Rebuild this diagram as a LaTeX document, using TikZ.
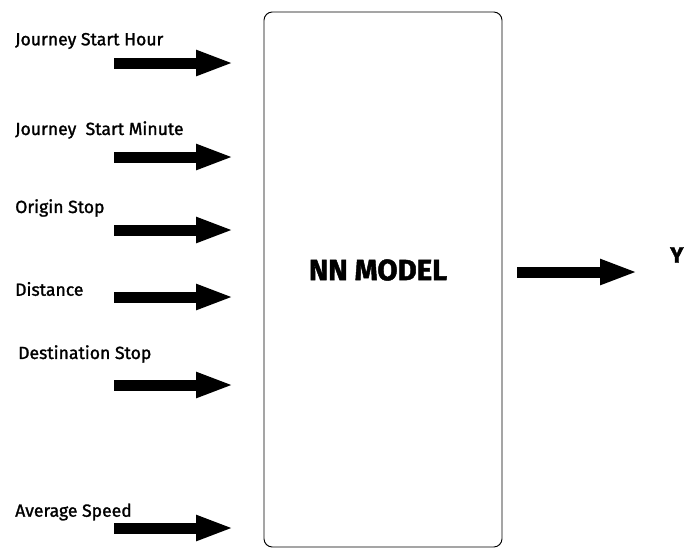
\documentclass[tikz,border=0pt]{standalone}
\usepackage{fontspec}
\setmainfont{Fira Sans}
\newfontfamily\lblfont{Fira Sans}[FakeBold=1.4]
\newfontfamily\heavyfont{Fira Sans Bold}[FakeBold=1.6]
\usetikzlibrary{arrows.meta}
\tikzset{
	inlabel/.style={anchor=west,inner sep=0pt,font=\lblfont\fontsize{15}{17}\selectfont},
	fatarrow/.style={line width=0.33cm,-{Triangle[length=1.14cm,width=0.7cm]}},
	modelbox/.style={draw,thick,rounded corners=0.25cm,minimum width=7.14cm,minimum height=16.05cm,inner sep=0pt}
}
\newcommand{\inarrow}[4]{% #1: name, #2: label, #3: label y, #4: arrow y
	\node[inlabel] (#1) at (15,#3) {#2};
	\coordinate (#1s) at (114,#4);
	\coordinate (#1e) at (234,#4);
	\draw[fatarrow] (#1s) -- (#1e);
}

\begin{document}
\begin{tikzpicture}[x=0.03cm,y=-0.03cm]
	% Page size
	\useasboundingbox (0,0) rectangle (684,549);
	
	% The model box
	\node[modelbox] (model) at (383,279.5) {};
	\node[font=\heavyfont\fontsize{25}{28}\selectfont] (nn) at (378,270) {NN MODEL};
	
	% Inputs
	\inarrow{hour}{Journey Start Hour}{41}{63}
	\inarrow{minute}{Journey\ \ Start Minute}{130}{157}
	\inarrow{origin}{Origin Stop}{208}{230}
	\inarrow{dist}{Distance}{289}{297}
	\node[inlabel] (dest) at (18,354) {Destination Stop};
	\coordinate (dests) at (114,385);
	\coordinate (deste) at (234,385);
	\draw[fatarrow] (dests) -- (deste);
	\inarrow{speed}{Average Speed}{512}{528}
	
	% Output
	\coordinate (outs) at (517,272);
	\coordinate (oute) at (638,272);
	\draw[fatarrow] (outs) -- (oute);
	\node[anchor=west,inner sep=0pt,font=\heavyfont\fontsize{19}{22}\selectfont] (y) at (670,255) {Y};
\end{tikzpicture}
\end{document}
